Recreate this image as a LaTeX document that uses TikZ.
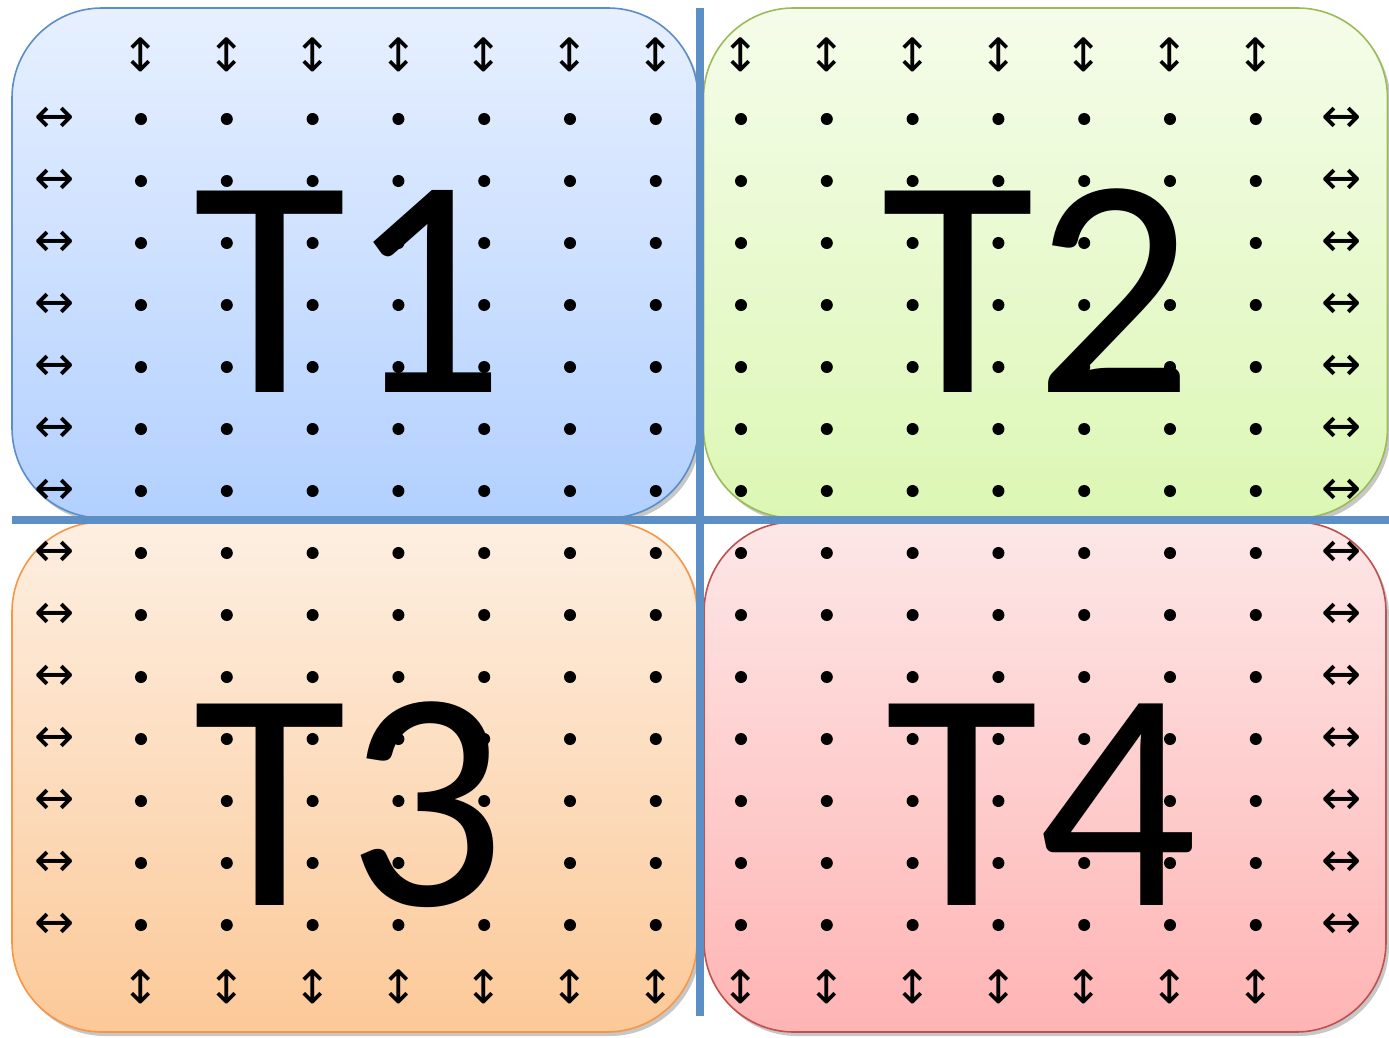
\documentclass[tikz,border=0pt]{standalone}
\usepackage{fontspec}
\setmainfont{Carlito}
\newfontfamily\arrowfont{DejaVu Sans}
\usetikzlibrary{shadows}
\definecolor{aTop}{RGB}{231,240,255}
\definecolor{aBot}{RGB}{178,208,255}
\definecolor{aEdge}{RGB}{91,141,200}
\definecolor{bTop}{RGB}{245,252,234}
\definecolor{bBot}{RGB}{220,247,180}
\definecolor{bEdge}{RGB}{155,187,89}
\definecolor{cTop}{RGB}{253,239,226}
\definecolor{cBot}{RGB}{252,201,152}
\definecolor{cEdge}{RGB}{247,150,70}
\definecolor{dTop}{RGB}{253,231,231}
\definecolor{dBot}{RGB}{255,180,180}
\definecolor{dEdge}{RGB}{192,80,77}
\definecolor{divider}{RGB}{91,143,198}
\tikzset{
  quadbox/.style={rectangle, rounded corners=90pt, line width=1.6pt, inner sep=0pt,
    drop shadow={shadow xshift=3pt, shadow yshift=-4pt, opacity=0.22, fill=black}},
  dotmark/.style={circle, fill=black, inner sep=0pt, minimum size=12pt},
  harrow/.style={inner sep=0pt, font=\arrowfont\fontsize{48}{48}\selectfont},
  varrow/.style={inner sep=0pt, font=\arrowfont\fontsize{46}{46}\selectfont},
  biglabel/.style={inner sep=0pt, anchor=base, font=\fontsize{314}{314}\selectfont},
  divline/.style={draw=divider, line width=7.5pt}
}
\begin{document}
\begin{tikzpicture}[x=1pt,y=-1pt]
\useasboundingbox (0,0) rectangle (1389,1037);
% boxes
\node[quadbox, draw=aEdge, top color=aTop, bottom color=aBot, minimum width=686pt, minimum height=510pt] (q1) at (355,263) {};
\node[quadbox, draw=bEdge, top color=bTop, bottom color=bBot, minimum width=684pt, minimum height=510pt] (q2) at (1045.5,263) {};
\node[quadbox, draw=cEdge, top color=cTop, bottom color=cBot, minimum width=685pt, minimum height=510pt] (q3) at (354.5,777) {};
\node[quadbox, draw=dEdge, top color=dTop, bottom color=dBot, minimum width=682pt, minimum height=510pt] (q4) at (1045,777) {};
% dots
\foreach \i in {0,...,6} {
  \foreach \j in {0,...,6} {
    \node[dotmark] (dl\i\j) at (141+85.8*\i, 119+62*\j) {};
    \node[dotmark] (dr\i\j) at (741+85.8*\i, 119+62*\j) {};
    \node[dotmark] (el\i\j) at (141+85.8*\i, 553+62*\j) {};
    \node[dotmark] (er\i\j) at (741+85.8*\i, 553+62*\j) {};
  }
}
% arrows
\foreach \i in {0,...,6} {
  \node[varrow] (ua\i) at (141+85.8*\i, 55) {↕};
  \node[varrow] (ub\i) at (741+85.8*\i, 55) {↕};
  \node[varrow] (uc\i) at (141+85.8*\i, 987) {↕};
  \node[varrow] (ud\i) at (741+85.8*\i, 987) {↕};
  \node[harrow] (ha\i) at (55, 120+62*\i) {↔};
  \node[harrow] (hb\i) at (1342, 120+62*\i) {↔};
  \node[harrow] (hc\i) at (55, 554+62*\i) {↔};
  \node[harrow] (hd\i) at (1342, 554+62*\i) {↔};
}
% labels
\node[biglabel] (t1) at (350,392) {T1};
\node[biglabel] (t2) at (1038,392) {T2};
\node[biglabel] (t3) at (350,905) {T3};
\node[biglabel] (t4) at (1042,905) {T4};
% dividers
\coordinate (vtop) at (700,8);
\coordinate (vbot) at (700,1016);
\coordinate (hl) at (12,520);
\coordinate (hr) at (1389,520);
\draw[divline] (hl) -- (hr);
\draw[divline] (vtop) -- (vbot);
\end{tikzpicture}
\end{document}
